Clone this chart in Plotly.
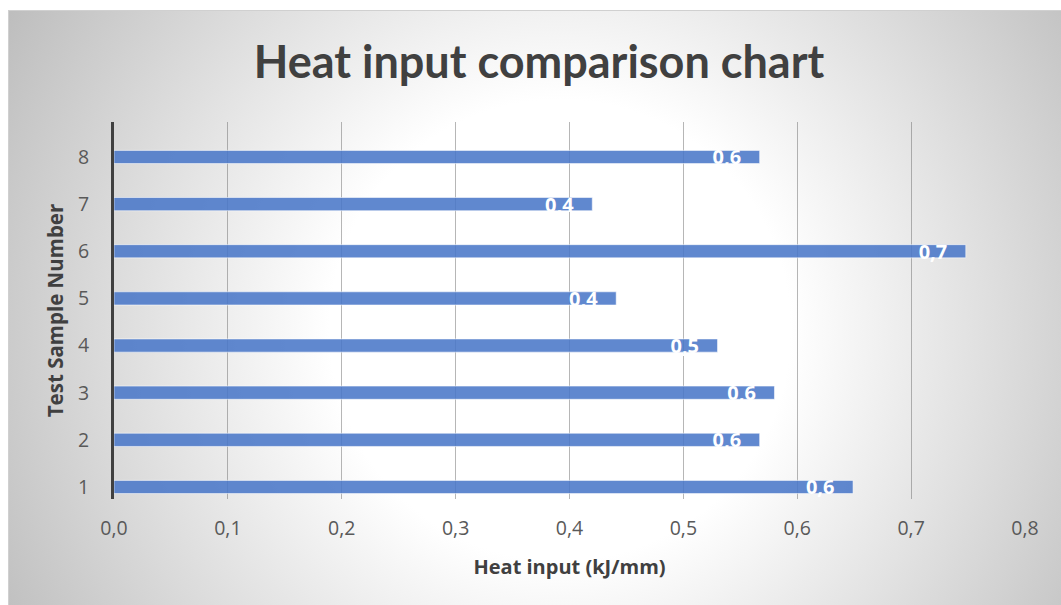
import plotly.graph_objects as go
import base64

# Data
samples = [1, 2, 3, 4, 5, 6, 7, 8]
heat_input = [0.649, 0.567, 0.580, 0.530, 0.441, 0.748, 0.420, 0.567]
x_ticks = [0.0, 0.1, 0.2, 0.3, 0.4, 0.5, 0.6, 0.7, 0.8]

W, H = 1061, 605
L, R, T, B = 114, 36, 122, 106
pw, ph = W - L - R, H - T - B

svg = f'''<svg xmlns="http://www.w3.org/2000/svg" width="{W}" height="{H}" viewBox="0 0 {W} {H}">
<defs><radialGradient id="g" gradientUnits="userSpaceOnUse" cx="560" cy="330" r="640">
<stop offset="0" stop-color="#ffffff"/><stop offset="0.36" stop-color="#ffffff"/>
<stop offset="1" stop-color="#bdbdbd"/></radialGradient></defs>
<rect x="0" y="0" width="{W}" height="{H}" fill="#ffffff"/>
<rect x="8.5" y="10.5" width="{W}" height="{H}" fill="url(#g)" stroke="#d0d0d0" stroke-width="1"/>
</svg>'''
bg = "data:image/svg+xml;base64," + base64.b64encode(svg.encode()).decode()

fig = go.Figure()
fig.add_trace(go.Bar(
    y=samples, x=heat_input, orientation="h", width=0.28,
    marker=dict(color="rgba(74,120,200,0.88)", line=dict(color="rgba(255,255,255,0.55)", width=1)),
    texttemplate="%{x:.1f}\u00a0\u00a0\u00a0", textposition="inside", insidetextanchor="end",
    textangle=0, constraintext="none",
    textfont=dict(family="Open Sans", size=20, color="white", weight="bold"),
    hoverinfo="skip",
))

fig.update_layout(
    width=W, height=H,
    margin=dict(l=L, r=R, t=T, b=B, pad=0),
    paper_bgcolor="white", plot_bgcolor="rgba(0,0,0,0)",
    separators=",.",
    showlegend=False,
    title=dict(text="<b>Heat input comparison chart</b>", x=0.508, xanchor="center",
               y=1 - 62 / H, yanchor="middle",
               font=dict(family="Lato", size=45, color="#404040")),
    images=[dict(source=bg, xref="paper", yref="paper", x=-L / pw, y=1 + T / ph,
                 sizex=W / pw, sizey=H / ph, xanchor="left", yanchor="top",
                 sizing="stretch", layer="below")],
    xaxis=dict(range=[0, 0.8], tickvals=x_ticks, tickformat=".1f",
               showgrid=True, gridcolor="rgba(110,110,110,0.5)", gridwidth=1,
               zeroline=False, showline=False, ticks="",
               ticklabelstandoff=15,
               tickfont=dict(family="Open Sans", size=19.5, color="#595959"),
               title=dict(text="<b>Heat input (kJ/mm)</b>", standoff=20,
                          font=dict(family="Open Sans", size=20, color="#404040"))),
    yaxis=dict(range=[0.745, 8.742], tickvals=samples, showgrid=False, zeroline=False,
               showline=True, linecolor="#404040", linewidth=3, ticks="",
               ticklabelstandoff=18,
               tickfont=dict(family="Open Sans", size=19.5, color="#595959"),
               title=dict(text="<b>Test Sample Number</b>", standoff=9,
                          font=dict(family="Open Sans", size=20.5, color="#404040"))),
)

fig.write_html("out.html")
